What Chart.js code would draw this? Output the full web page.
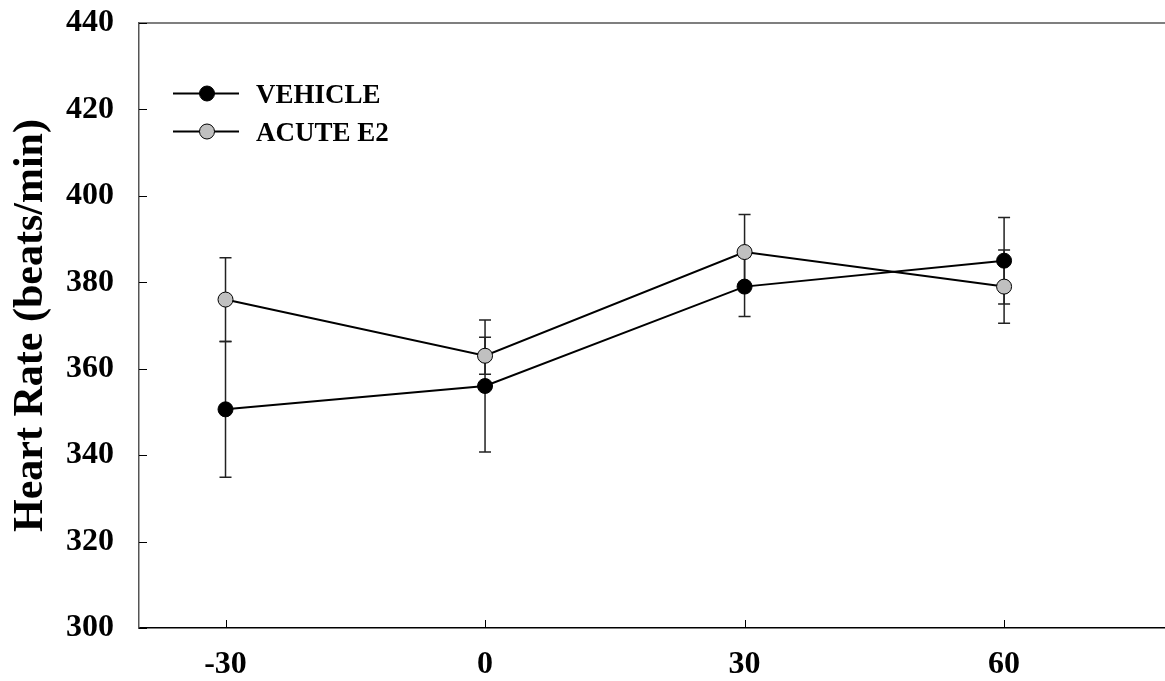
<!DOCTYPE html>
<html>
<head>
<meta charset="utf-8">
<script src="https://cdn.jsdelivr.net/npm/chart.js@4.4.0/dist/chart.umd.min.js"></script>
<style>
html, body { margin: 0; padding: 0; background: #fff; }
</style>
</head>
<body>
<canvas id="hr-chart" width="1165" height="681"></canvas>
<script>
var times = [-30, 0, 30, 60];
var vehicle = [350.6, 356, 379, 385];
var vehicleErr = [15.7, 15.3, 6.9, 10];
var acuteE2 = [376, 363, 387, 379];
var acuteE2Err = [9.7, 4.3, 8.7, 8.5];
var xTicks = [-30, 0, 30, 60];
var yTicks = [300, 320, 340, 360, 380, 400, 420, 440];
var seriesNames = ["VEHICLE", "ACUTE E2"];

var serif = "'Liberation Serif', 'Times New Roman', serif";

function pts(ys) {
    return times.map(function (t, i) { return { x: t, y: ys[i] }; });
}

// error bars, inward ticks, top frame and the legend box
var extras = {
    id: 'extras',
    beforeDatasetsDraw: function (chart) {
        var ctx = chart.ctx, xs = chart.scales.x, ys = chart.scales.y;
        var errs = [vehicleErr, acuteE2Err];
        ctx.save();
        ctx.strokeStyle = '#222';
        ctx.lineWidth = 1.5;
        chart.data.datasets.forEach(function (ds, d) {
            ds.data.forEach(function (p, i) {
                var px = xs.getPixelForValue(p.x);
                var top = ys.getPixelForValue(p.y + errs[d][i]);
                var bot = ys.getPixelForValue(p.y - errs[d][i]);
                ctx.beginPath();
                ctx.moveTo(px, top); ctx.lineTo(px, bot);
                ctx.moveTo(px - 6, top); ctx.lineTo(px + 6, top);
                ctx.moveTo(px - 6, bot); ctx.lineTo(px + 6, bot);
                ctx.stroke();
            });
        });
        ctx.restore();
    },
    afterDraw: function (chart) {
        var ctx = chart.ctx, a = chart.chartArea, xs = chart.scales.x, ys = chart.scales.y;
        ctx.save();
        // top frame line
        ctx.strokeStyle = '#555';
        ctx.lineWidth = 1.5;
        ctx.beginPath();
        ctx.moveTo(a.left, a.top); ctx.lineTo(a.right, a.top);
        ctx.stroke();
        // inward ticks
        ctx.strokeStyle = '#000';
        ctx.lineWidth = 1;
        ctx.beginPath();
        xTicks.forEach(function (v) {
            var px = Math.round(xs.getPixelForValue(v)) + 0.5;
            ctx.moveTo(px, a.bottom); ctx.lineTo(px, a.bottom - 8);
        });
        yTicks.forEach(function (v) {
            var py = Math.round(ys.getPixelForValue(v)) + 0.5;
            ctx.moveTo(a.left, py); ctx.lineTo(a.left + 8, py);
        });
        ctx.stroke();
        // legend
        var rows = [93.5, 131.5];
        chart.data.datasets.forEach(function (ds, d) {
            var y = rows[d];
            ctx.strokeStyle = '#000';
            ctx.lineWidth = 2;
            ctx.beginPath();
            ctx.moveTo(173, y); ctx.lineTo(239, y);
            ctx.stroke();
            ctx.beginPath();
            ctx.arc(207, y, 7.5, 0, Math.PI * 2);
            ctx.fillStyle = ds.pointBackgroundColor;
            ctx.fill();
            ctx.lineWidth = 1;
            ctx.stroke();
            ctx.fillStyle = '#000';
            ctx.font = 'bold 27px ' + serif;
            ctx.textBaseline = 'middle';
            ctx.fillText(seriesNames[d], 256, y + 3);
        });
        ctx.restore();
    }
};

new Chart(document.getElementById('hr-chart'), {
    type: 'line',
    data: {
        datasets: [{
            label: seriesNames[0],
            data: pts(vehicle),
            borderColor: '#000',
            borderWidth: 2,
            pointRadius: 7.5,
            pointBorderWidth: 1,
            pointBorderColor: '#000',
            pointBackgroundColor: '#000',
            order: 1
        }, {
            label: seriesNames[1],
            data: pts(acuteE2),
            borderColor: '#000',
            borderWidth: 2,
            pointRadius: 7.5,
            pointBorderWidth: 1,
            pointBorderColor: '#000',
            pointBackgroundColor: '#c0c0c0',
            order: 2
        }]
    },
    options: {
        responsive: false,
        animation: false,
        layout: { autoPadding: false, padding: { top: 23, right: 0, left: 0, bottom: 0 } },
        plugins: {
            legend: { display: false },
            tooltip: { enabled: false }
        },
        scales: {
            x: {
                type: 'linear',
                min: -40,
                max: 78.6,
                afterBuildTicks: function (s) { s.ticks = xTicks.map(function (v) { return { value: v }; }); },
                afterFit: function (s) { s.height = 53; s.paddingLeft = 0; s.paddingRight = 0; },
                grid: { display: false },
                border: { display: true, color: '#000', width: 1.5 },
                ticks: { color: '#000', padding: 10, font: { family: serif, size: 32, weight: 'bold' } }
            },
            y: {
                min: 300,
                max: 440,
                afterBuildTicks: function (s) { s.ticks = yTicks.map(function (v) { return { value: v }; }); },
                afterFit: function (s) { s.width = 139; s.paddingTop = 0; s.paddingBottom = 0; },
                grid: { display: false },
                border: { display: true, color: '#555', width: 1.5 },
                ticks: { color: '#000', padding: 17, font: { family: serif, size: 32, weight: 'bold' } },
                title: {
                    display: true,
                    text: 'Heart Rate (beats/min)',
                    color: '#000',
                    padding: { top: 6, bottom: 4 },
                    font: { family: serif, size: 42, weight: 'bold' }
                }
            }
        }
    },
    plugins: [extras]
});
</script>
</body>
</html>
